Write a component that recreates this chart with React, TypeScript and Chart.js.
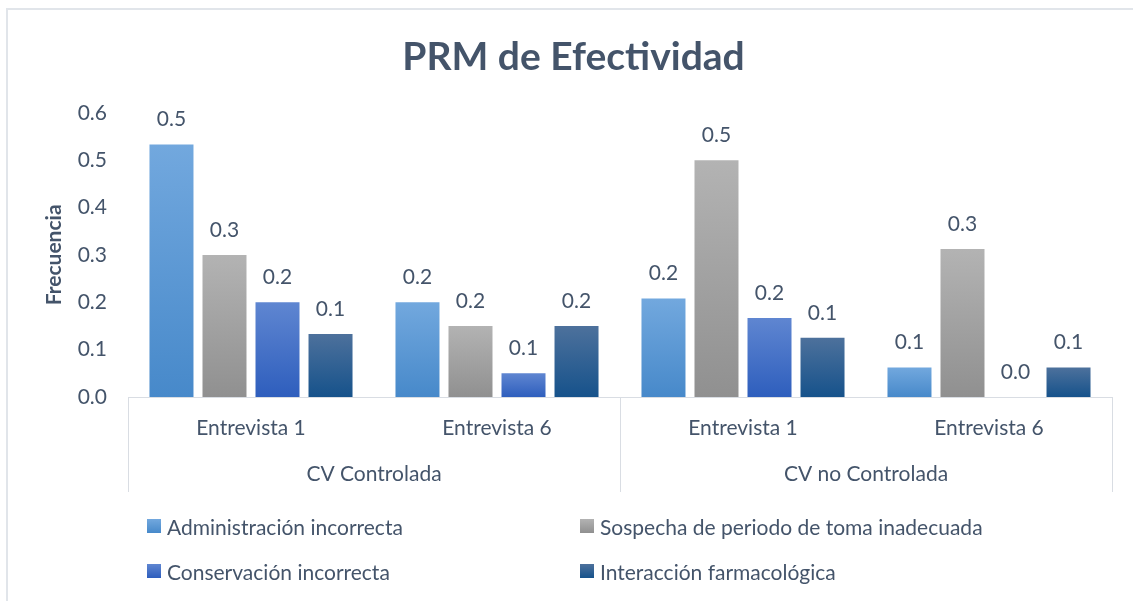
import React, { useEffect, useRef } from 'react';
import { Chart, registerables } from 'chart.js';

Chart.register(...registerables);

const categories = ['Entrevista 1', 'Entrevista 6', 'Entrevista 1', 'Entrevista 6'];
const groups = ['CV Controlada', 'CV no Controlada'];
const seriesNames = [
  'Administración incorrecta',
  'Sospecha de periodo de toma inadecuada',
  'Conservación incorrecta',
  'Interacción farmacológica',
];
const administracion = [0.533, 0.2, 0.208, 0.0625];
const sospecha = [0.3, 0.15, 0.5, 0.3125];
const conservacion = [0.2, 0.05, 0.167, 0];
const interaccion = [0.133, 0.15, 0.125, 0.0625];
const yMin = 0;
const yMax = 0.6;
const yStep = 0.1;

const seriesValues = [administracion, sospecha, conservacion, interaccion];
const seriesColors: [string, string][] = [
  ['#72a8de', '#4789ca'],
  ['#b3b3b3', '#909090'],
  ['#5f86d1', '#2e5ebd'],
  ['#4d719c', '#16528b'],
];

const TEXT = '#44546a';
const FONT = 'Lato';
const LINE = '#d9dde3';

const fmt = (v: number) => (Math.round(v * 10) / 10).toFixed(1);

export default function App() {
  const ref = useRef<HTMLCanvasElement | null>(null);

  useEffect(() => {
    if (!ref.current) return;

    const gradientFor = (i: number) => (ctx: any) => {
      const [c1, c2] = seriesColors[i];
      if (ctx.type !== 'data') return c1;
      const chart = ctx.chart;
      const ys = chart.scales && chart.scales.y;
      if (!ys) return c1;
      const top = ys.getPixelForValue(ctx.raw);
      const bot = ys.getPixelForValue(0);
      if (!isFinite(top) || !isFinite(bot) || bot - top < 1) return c2;
      const g = chart.ctx.createLinearGradient(0, top, 0, bot);
      g.addColorStop(0, c1);
      g.addColorStop(1, c2);
      return g;
    };

    const valueLabels = {
      id: 'valueLabels',
      afterDatasetsDraw(chart: any) {
        const { ctx } = chart;
        ctx.save();
        ctx.font = `21px ${FONT}`;
        ctx.fillStyle = TEXT;
        ctx.textAlign = 'center';
        ctx.textBaseline = 'middle';
        chart.data.datasets.forEach((ds: any, di: number) => {
          const meta = chart.getDatasetMeta(di);
          meta.data.forEach((el: any, i: number) => {
            ctx.fillText(fmt(ds.data[i]), el.x, el.y - 25);
          });
        });
        ctx.restore();
      },
    };

    const separators = {
      id: 'separators',
      afterDraw(chart: any) {
        const { ctx, chartArea, scales } = chart;
        const x2 = scales.x2;
        const mid = (x2.getPixelForTick(0) + x2.getPixelForTick(1)) / 2;
        const xs = [chartArea.left, mid, chartArea.right];
        ctx.save();
        ctx.strokeStyle = LINE;
        ctx.lineWidth = 1;
        xs.forEach((x) => {
          const px = Math.round(x) + 0.5;
          ctx.beginPath();
          ctx.moveTo(px, chartArea.bottom);
          ctx.lineTo(px, x2.bottom);
          ctx.stroke();
        });
        ctx.restore();
      },
    };

    const chart = new Chart(ref.current, {
      type: 'bar',
      data: {
        labels: categories,
        datasets: seriesNames.map((name, i) => ({
          label: name,
          data: seriesValues[i],
          backgroundColor: gradientFor(i),
          borderWidth: 0,
          categoryPercentage: 0.862,
          barPercentage: 0.83,
          xAxisID: 'x',
          yAxisID: 'y',
        })),
      },
      options: {
        responsive: false,
        animation: false,
        devicePixelRatio: 1,
        layout: { padding: { left: 14, right: 0, top: 0, bottom: 109 } },
        plugins: {
          legend: { display: false },
          tooltip: { enabled: false },
          title: {
            display: true,
            text: 'PRM de Efectividad',
            color: TEXT,
            font: { family: FONT, size: 39, weight: 'bold' },
            padding: { top: 34, bottom: 32 },
          },
        },
        scales: {
          x: {
            type: 'category',
            position: 'bottom',
            weight: 0,
            offset: true,
            grid: { display: false, drawTicks: false },
            border: { display: true, color: LINE, width: 1 },
            ticks: {
              color: TEXT,
              font: { family: FONT, size: 21 },
              padding: 19,
              maxRotation: 0,
              autoSkip: false,
            },
            afterFit(scale: any) {
              scale.height = 50;
            },
          },
          x2: {
            type: 'category',
            position: 'bottom',
            weight: 1,
            labels: groups,
            offset: true,
            bounds: 'ticks',
            grid: { display: false, drawTicks: false },
            border: { display: false },
            ticks: {
              color: TEXT,
              font: { family: FONT, size: 21 },
              padding: 15,
              maxRotation: 0,
              autoSkip: false,
            },
            afterFit(scale: any) {
              scale.height = 45;
            },
          },
          y: {
            type: 'linear',
            position: 'left',
            min: yMin,
            max: yMax,
            grid: { display: false, drawTicks: false },
            border: { display: false },
            ticks: {
              stepSize: yStep,
              color: TEXT,
              font: { family: FONT, size: 21 },
              padding: 21,
              callback: (v: any) => Number(v).toFixed(1),
            },
            title: {
              display: true,
              text: 'Frecuencia',
              color: TEXT,
              font: { family: FONT, size: 21, weight: 'bold' },
              padding: { top: 28, bottom: 0 },
            },
            afterFit(scale: any) {
              scale.width = 114;
            },
          },
          yRightSpace: {
            type: 'linear',
            position: 'right',
            display: true,
            min: yMin,
            max: yMax,
            grid: { display: false, drawTicks: false },
            border: { display: false },
            ticks: { display: false },
            afterFit(scale: any) {
              scale.width = 21;
            },
          },
        },
      } as any,
      plugins: [valueLabels, separators],
    });

    return () => chart.destroy();
  }, []);

  const legendPos = [
    { x: 147, y: 526 },
    { x: 580, y: 526 },
    { x: 147, y: 571 },
    { x: 580, y: 571 },
  ];

  return (
    <div
      style={{
        position: 'fixed',
        left: 0,
        top: 0,
        width: 1133,
        height: 601,
        overflow: 'hidden',
        background: '#ffffff',
      }}
    >
      <div
        style={{
          position: 'absolute',
          left: 6,
          top: 8,
          width: 1300,
          height: 800,
          border: '2px solid #e1e5ea',
          boxSizing: 'border-box',
        }}
      />
      <canvas
        ref={ref}
        width={1133}
        height={601}
        style={{ position: 'absolute', left: 0, top: 0, width: 1133, height: 601 }}
      />
      {seriesNames.map((name, i) => (
        <div
          key={name}
          style={{
            position: 'absolute',
            left: legendPos[i].x,
            top: legendPos[i].y - 15,
            height: 30,
            display: 'flex',
            alignItems: 'center',
            whiteSpace: 'nowrap',
            fontFamily: FONT,
            fontSize: 21,
            color: TEXT,
          }}
        >
          <span
            style={{
              display: 'inline-block',
              width: 14,
              height: 14,
              marginRight: 6,
              background: `linear-gradient(${seriesColors[i][0]}, ${seriesColors[i][1]})`,
            }}
          />
          <span>{name}</span>
        </div>
      ))}
    </div>
  );
}
